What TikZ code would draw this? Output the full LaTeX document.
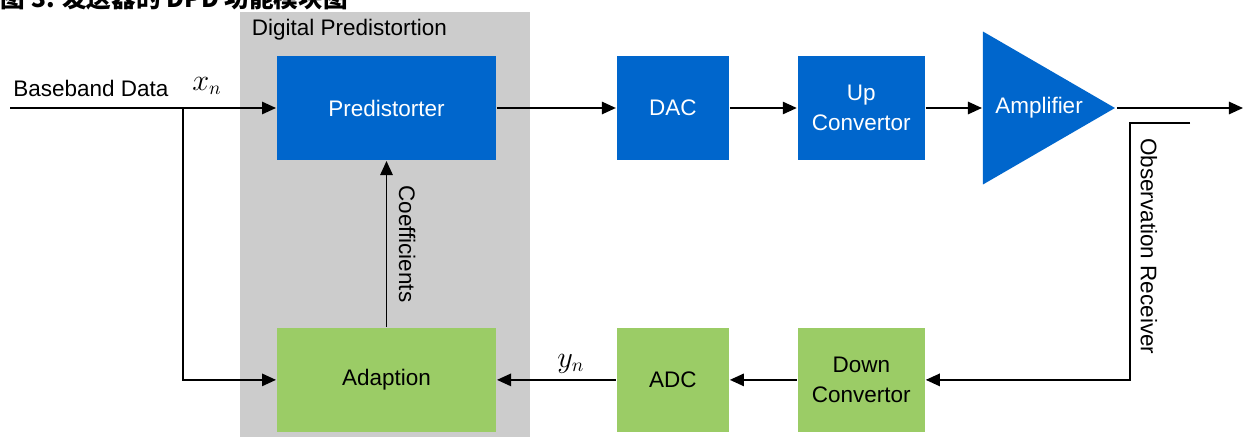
\documentclass[tikz,border=0pt]{standalone}
\usepackage{fontspec}
\setmainfont{Liberation Sans}
\newfontfamily\cjk{Noto Sans CJK SC}
\usepackage{tikz}
\usetikzlibrary{positioning,shapes.geometric,arrows.meta}
\definecolor{dpdblue}{HTML}{0066CC}
\definecolor{dpdgreen}{HTML}{9BCC66}
\definecolor{dpdgray}{HTML}{CCCCCC}

\begin{document}
\begin{tikzpicture}[x=0.02cm, y=-0.02cm, line width=1.1pt, >={Triangle[length=8pt,width=7pt]},
    tx/.style = {fill=dpdblue, text=white, minimum height=2.08cm, align=center, font=\fontsize{12.8}{17}\selectfont},
    rx/.style = {fill=dpdgreen, text=black, minimum height=2.08cm, align=center, font=\fontsize{12.8}{17}\selectfont},
    lbl/.style = {font=\fontsize{12.8}{15}\selectfont}]
    \useasboundingbox (0,0) rectangle (1243,436);

    % caption (cut off at the top)
    \node[anchor=base west, inner sep=0pt, font=\cjk\bfseries\fontsize{14}{17}\selectfont] (cap) at (0,8) {图 3. 发送器的 DPD 功能模块图};

    % digital predistortion area
    \fill[dpdgray] (240,12) rectangle (530,440);
    \node[lbl, anchor=west] (dpd) at (245,30) {Digital Predistortion};

    % transmit path
    \node[tx, minimum width=4.38cm] (pred) at (386.5,108) {Predistorter};
    \node[tx, minimum width=2.24cm] (dac) [right=2.38cm of pred] {DAC};
    \node[tx, minimum width=2.54cm] (upc) [right=1.34cm of dac] {Up\\Convertor};
    \node[isosceles triangle, isosceles triangle stretches, fill=dpdblue, text=white,
          minimum width=3.06cm, minimum height=2.64cm, inner sep=0pt, anchor=lower side,
          font=\fontsize{12.8}{15}\selectfont] (amp) at (982,108) {};
    \node[text=white, font=\fontsize{12.8}{15}\selectfont] (amplbl) at (1039,108) {Amplifier};

    % observation path
    \node[rx, minimum width=4.38cm] (adapt) [below=3.32cm of pred] {Adaption};
    \node[rx, minimum width=2.24cm] (adc) [below=3.32cm of dac] {ADC};
    \node[rx, minimum width=2.54cm] (dnc) [below=3.32cm of upc] {Down\\Convertor};

    \coordinate (bbin) at (10,108);
    \coordinate (split) at (183,108);
    \coordinate (out) at (1243,108);
    \coordinate (obs) at (1190,123);

    \draw[->] (bbin) -- (pred);
    \node[lbl] (bb) at (91,88) {Baseband Data};
    \node (xn) at (207,86) {\fontsize{16}{18}\selectfont$x_n$};
    \draw[->] (split) |- (adapt);

    \draw[->] (pred) -- (dac);
    \draw[->] (dac) -- (upc);
    \draw[->] (upc) -- (amp.lower side);
    \draw[->] (amp.apex) -- (out);

    \draw[->] (obs) -- ++(-60,0) |- node[pos=0.24, lbl, rotate=-90, anchor=south, inner sep=5.5pt] {Observation Receiver} (dnc);
    \draw[->] (dnc) -- (adc);
    \draw[->] (adc) -- node[pos=0.38, above] {\fontsize{16}{18}\selectfont$y_n$} (adapt);
    \draw[->] (adapt) -- node[midway, lbl, rotate=-90, anchor=south, inner sep=6.5pt] {Coefficients} (pred);
\end{tikzpicture}
\end{document}
